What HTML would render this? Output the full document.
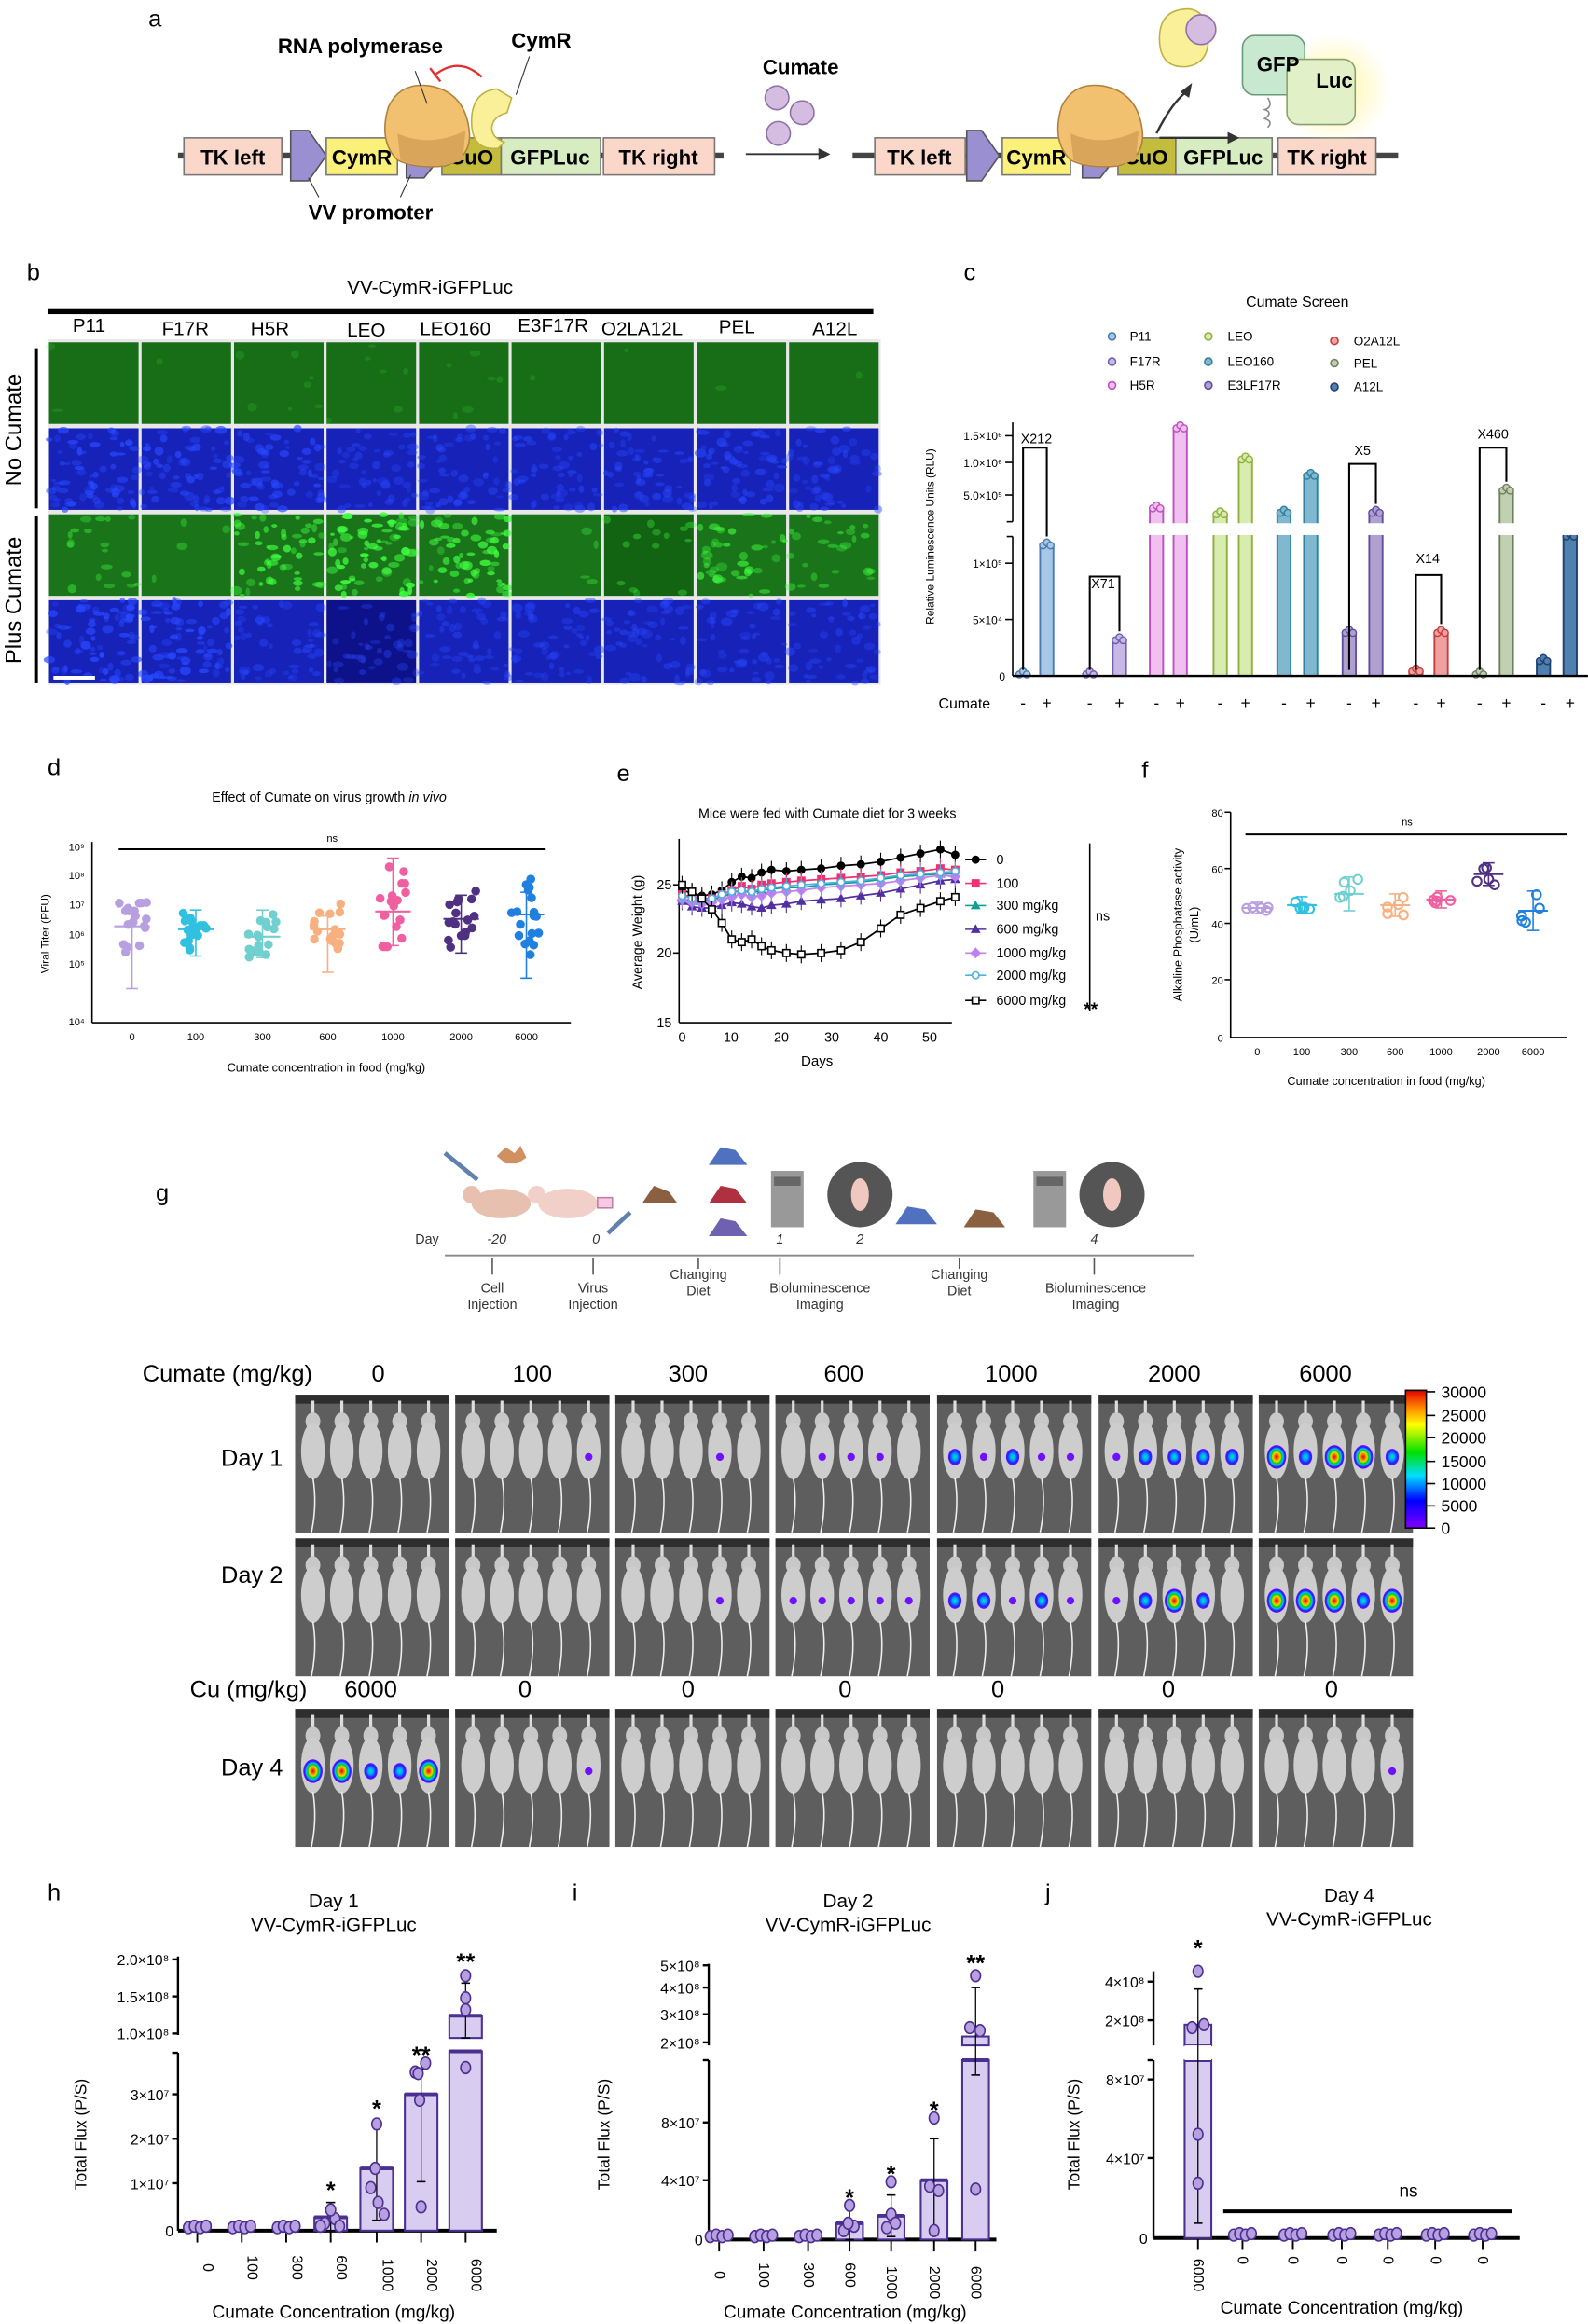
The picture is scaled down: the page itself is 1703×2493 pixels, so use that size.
<!DOCTYPE html>
<html><head><meta charset="utf-8">
<style>
html,body{margin:0;padding:0;background:#fff;}
svg{display:block;font-family:"Liberation Sans",sans-serif;}
</style></head>
<body>
<svg id="s" width="1703" height="2493" viewBox="0 0 1071 1568" xmlns="http://www.w3.org/2000/svg">
<defs>
<radialGradient id="glow"><stop offset="0" stop-color="#fff6a0"/><stop offset="1" stop-color="#fff6a0" stop-opacity="0"/></radialGradient>
<radialGradient id="sp3"><stop offset="0" stop-color="#e00000"/><stop offset="0.25" stop-color="#ff8000"/><stop offset="0.4" stop-color="#e0e000"/><stop offset="0.55" stop-color="#00d000"/><stop offset="0.7" stop-color="#00c0ff"/><stop offset="0.85" stop-color="#2020ff"/><stop offset="1" stop-color="#8000ff"/></radialGradient>
<radialGradient id="sp2"><stop offset="0" stop-color="#00e0c0"/><stop offset="0.4" stop-color="#00a0ff"/><stop offset="0.75" stop-color="#2020ff"/><stop offset="1" stop-color="#7010ff"/></radialGradient>
<linearGradient id="cbar" x1="0" y1="1" x2="0" y2="0"><stop offset="0" stop-color="#8000ff"/><stop offset="0.2" stop-color="#0000ff"/><stop offset="0.38" stop-color="#00e0ff"/><stop offset="0.55" stop-color="#00e000"/><stop offset="0.75" stop-color="#ffff00"/><stop offset="0.88" stop-color="#ff8000"/><stop offset="1" stop-color="#e00000"/></linearGradient>
</defs>

<!-- ============ Panel a ============ -->
<g id="pa">
<text x="100" y="18" font-size="16">a</text>
<line x1="120" y1="105" x2="488" y2="105" stroke="#444" stroke-width="4"/>
<rect x="124" y="93" width="66" height="25" fill="#fad7c9" stroke="#777"/>
<text x="157" y="111" font-size="14" font-weight="bold" text-anchor="middle">TK left</text>
<polygon points="196,88 208,88 220,105 208,122 196,122" fill="#9a8fd0" stroke="#555"/>
<rect x="220" y="93" width="48" height="25" fill="#faf07a" stroke="#777"/>
<text x="244" y="111" font-size="14" font-weight="bold" text-anchor="middle">CymR</text>
<polygon points="274,92 286,92 297,106 286,120 274,120" fill="#9a8fd0" stroke="#555"/>
<rect x="298" y="93" width="40" height="25" fill="#c4bc3c" stroke="#777"/>
<text x="318" y="111" font-size="14" font-weight="bold" text-anchor="middle">CuO</text>
<rect x="338" y="93" width="67" height="25" fill="#d8ecc2" stroke="#777"/>
<text x="371" y="111" font-size="14" font-weight="bold" text-anchor="middle">GFPLuc</text>
<rect x="407" y="93" width="75" height="25" fill="#fad7c9" stroke="#777"/>
<text x="444" y="111" font-size="14" font-weight="bold" text-anchor="middle">TK right</text>
<path d="M262,72 Q270,55 290,58 Q312,62 316,85 Q320,106 300,112 Q280,114 268,108 Q255,95 262,72Z" fill="#f2c170" stroke="#b08040"/>
<path d="M268,90 Q290,100 314,88 L312,108 Q290,116 270,108Z" fill="#d9a55a"/>
<path d="M335,60 Q318,62 318,82 Q318,102 336,100 L340,96 Q330,92 332,84 Q334,78 342,76 L345,66Z" fill="#faf09a" stroke="#c0b040"/>
<path d="M325,52 Q310,38 294,50" fill="none" stroke="#e03030" stroke-width="1.5"/>
<line x1="290" y1="46" x2="297" y2="55" stroke="#e03030" stroke-width="1.5"/>
<text x="243" y="36" font-size="14" font-weight="bold" text-anchor="middle">RNA polymerase</text>
<text x="365" y="32" font-size="14" font-weight="bold" text-anchor="middle">CymR</text>
<line x1="280" y1="48" x2="288" y2="70" stroke="#333" stroke-width="0.7"/>
<line x1="357" y1="38" x2="348" y2="64" stroke="#333" stroke-width="0.7"/>
<text x="250" y="148" font-size="14" font-weight="bold" text-anchor="middle">VV promoter</text>
<line x1="208" y1="120" x2="215" y2="133" stroke="#333" stroke-width="0.7"/>
<line x1="277" y1="118" x2="270" y2="133" stroke="#333" stroke-width="0.7"/>
<text x="540" y="50" font-size="14" font-weight="bold" text-anchor="middle">Cumate</text>
<circle cx="524" cy="66" r="8" fill="#d4bde0" stroke="#9070a8"/>
<circle cx="541" cy="76" r="8" fill="#d4bde0" stroke="#9070a8"/>
<circle cx="525" cy="90" r="8" fill="#d4bde0" stroke="#9070a8"/>
<line x1="503" y1="104" x2="558" y2="104" stroke="#333" stroke-width="1.2"/>
<polygon points="560,104 552,100 552,108" fill="#333"/>
<line x1="575" y1="105" x2="943" y2="105" stroke="#444" stroke-width="4"/>
<rect x="590" y="93" width="61" height="25" fill="#fad7c9" stroke="#777"/>
<text x="620" y="111" font-size="14" font-weight="bold" text-anchor="middle">TK left</text>
<polygon points="652,88 662,88 674,105 662,122 652,122" fill="#9a8fd0" stroke="#555"/>
<rect x="676" y="93" width="46" height="25" fill="#faf07a" stroke="#777"/>
<text x="699" y="111" font-size="14" font-weight="bold" text-anchor="middle">CymR</text>
<polygon points="730,92 742,92 753,106 742,120 730,120" fill="#9a8fd0" stroke="#555"/>
<rect x="754" y="93" width="39" height="25" fill="#c4bc3c" stroke="#777"/>
<text x="773" y="111" font-size="14" font-weight="bold" text-anchor="middle">CuO</text>
<rect x="793" y="93" width="65" height="25" fill="#d8ecc2" stroke="#777"/>
<text x="825" y="111" font-size="14" font-weight="bold" text-anchor="middle">GFPLuc</text>
<rect x="862" y="93" width="66" height="25" fill="#fad7c9" stroke="#777"/>
<text x="895" y="111" font-size="14" font-weight="bold" text-anchor="middle">TK right</text>
<path d="M716,72 Q724,55 744,58 Q766,62 770,85 Q774,106 754,112 Q734,114 722,108 Q709,95 716,72Z" fill="#f2c170" stroke="#b08040"/>
<path d="M722,90 Q744,100 768,88 L766,108 Q744,116 724,108Z" fill="#d9a55a"/>
<path d="M802,6 Q782,6 782,26 Q782,46 800,45 Q815,43 815,26 Q815,8 802,6Z" fill="#faf09a" stroke="#c0b040"/>
<circle cx="810" cy="20" r="10" fill="#d4bde0" stroke="#9070a8"/>
<path d="M780,90 Q790,70 800,62" fill="none" stroke="#333" stroke-width="1.5"/>
<polygon points="804,56 796,62 802,66" fill="#333"/>
<line x1="782" y1="93" x2="832" y2="93" stroke="#333" stroke-width="1.5"/>
<polygon points="836,93 828,89 828,97" fill="#333"/>
<circle cx="900" cy="60" r="38" fill="url(#glow)"/>
<rect x="838" y="24" width="42" height="40" rx="8" fill="#c8e8d0" stroke="#6a9a7a"/>
<rect x="868" y="40" width="46" height="44" rx="8" fill="#e2f0c8" stroke="#8aa070"/>
<text x="862" y="48" font-size="14" font-weight="bold" text-anchor="middle">GFP</text>
<text x="900" y="59" font-size="14" font-weight="bold" text-anchor="middle">Luc</text>
<path d="M855,66 q4,6 -2,8 q6,2 0,6 q6,2 2,6" fill="none" stroke="#888"/>
</g>

<!-- ============ Panel b ============ -->
<g id="pb">
<text x="18" y="189" font-size="16">b</text>
<text x="290" y="198" font-size="13" text-anchor="middle">VV-CymR-iGFPLuc</text>
<rect x="32" y="208" width="557" height="4" fill="#000"/>
<g font-size="13" text-anchor="middle">
<text x="60" y="224">P11</text><text x="125" y="226">F17R</text><text x="182" y="226">H5R</text><text x="247" y="227">LEO</text><text x="307" y="226">LEO160</text><text x="373" y="224">E3F17R</text><text x="433" y="226">O2LA12L</text><text x="497" y="225">PEL</text><text x="563" y="226">A12L</text>
</g>
<rect x="32" y="229" width="562" height="233" fill="#e8e8e8"/>
<g id="cells"></g>
<rect x="23" y="235" width="2.5" height="108" fill="#000"/>
<rect x="23" y="348" width="2.5" height="113" fill="#000"/>
<text transform="translate(14,290) rotate(-90)" font-size="15" text-anchor="middle">No Cumate</text>
<text transform="translate(14,405) rotate(-90)" font-size="15" text-anchor="middle">Plus Cumate</text>
<rect x="36" y="456" width="28" height="2.5" fill="#fff"/>
</g>

<!-- ============ Panel c ============ -->
<g id="pc">
<text x="650" y="189" font-size="16">c</text>
<text x="875" y="207" font-size="10" text-anchor="middle">Cumate Screen</text>
<g font-size="8.5">
<circle cx="750" cy="227" r="2.5" fill="#a8c8e8" stroke="#4a7ab0"/><text x="762" y="230">P11</text>
<circle cx="750" cy="244" r="2.5" fill="#c8b8e8" stroke="#7060b0"/><text x="762" y="247">F17R</text>
<circle cx="750" cy="260" r="2.5" fill="#f0c0f0" stroke="#c050c0"/><text x="762" y="263">H5R</text>
<circle cx="815" cy="227" r="2.5" fill="#d8ecb0" stroke="#90b040"/><text x="828" y="230">LEO</text>
<circle cx="815" cy="244" r="2.5" fill="#80b8d0" stroke="#3080a0"/><text x="828" y="247">LEO160</text>
<circle cx="815" cy="260" r="2.5" fill="#b0a0d0" stroke="#6050a0"/><text x="828" y="263">E3LF17R</text>
<circle cx="900" cy="230" r="2.5" fill="#f0a0a0" stroke="#c04040"/><text x="913" y="233">O2A12L</text>
<circle cx="900" cy="245" r="2.5" fill="#c0d0b0" stroke="#708060"/><text x="913" y="248">PEL</text>
<circle cx="900" cy="261" r="2.5" fill="#5080b0" stroke="#204070"/><text x="913" y="264">A12L</text>
</g>
<g id="cchart"></g>
<line x1="683" y1="285" x2="683" y2="352" stroke="#000"/>
<line x1="683" y1="362" x2="683" y2="456" stroke="#000"/>
<line x1="683" y1="456" x2="1071" y2="456" stroke="#000" stroke-width="1.5"/>
<g font-size="7.5" text-anchor="end">
<text x="676" y="297">1.5×10⁶</text><text x="676" y="315">1.0×10⁶</text><text x="676" y="337">5.0×10⁵</text>
<text x="676" y="383">1×10⁵</text><text x="676" y="421">5×10⁴</text><text x="678" y="459">0</text>
</g>
<g stroke="#000"><line x1="678" y1="294" x2="683" y2="294"/><line x1="678" y1="312" x2="683" y2="312"/><line x1="678" y1="334" x2="683" y2="334"/><line x1="678" y1="380" x2="683" y2="380"/><line x1="678" y1="418" x2="683" y2="418"/><line x1="679" y1="352" x2="683" y2="352"/><line x1="679" y1="362" x2="683" y2="362"/></g>
<text transform="translate(630,362) rotate(-90)" font-size="7.5" text-anchor="middle">Relative Luminescence Units (RLU)</text>
<text x="633" y="478" font-size="10">Cumate</text>
<g font-size="11" text-anchor="middle" id="pm">
<text x="690" y="478">-</text><text x="706" y="478">+</text><text x="735" y="478">-</text><text x="755" y="478">+</text>
<text x="780" y="478">-</text><text x="796" y="478">+</text><text x="823" y="478">-</text><text x="840" y="478">+</text>
<text x="866" y="478">-</text><text x="884" y="478">+</text><text x="910" y="478">-</text><text x="928" y="478">+</text>
<text x="955" y="478">-</text><text x="972" y="478">+</text><text x="998" y="478">-</text><text x="1016" y="478">+</text>
<text x="1041" y="478">-</text><text x="1059" y="478">+</text>
</g>
<g font-size="9" text-anchor="middle">
<text x="699" y="299">X212</text><text x="744" y="397">X71</text><text x="919" y="307">X5</text><text x="963" y="380">X14</text><text x="1007" y="296">X460</text>
</g>
</g>

<!-- ============ Panel d ============ -->
<g id="pd">
<text x="32" y="523" font-size="16">d</text>
<text x="222" y="541" font-size="9" text-anchor="middle">Effect of Cumate on virus growth <tspan font-style="italic">in vivo</tspan></text>
<line x1="62" y1="568" x2="62" y2="690" stroke="#000"/>
<line x1="62" y1="690" x2="385" y2="690" stroke="#000"/>
<g font-size="7" text-anchor="end">
<text x="57" y="574">10⁹</text><text x="57" y="593">10⁸</text><text x="57" y="613">10⁷</text><text x="57" y="633">10⁶</text><text x="57" y="653">10⁵</text><text x="57" y="692">10⁴</text>
</g>
<g font-size="7" text-anchor="middle">
<text x="89" y="702">0</text><text x="132" y="702">100</text><text x="177" y="702">300</text><text x="221" y="702">600</text><text x="265" y="702">1000</text><text x="311" y="702">2000</text><text x="355" y="702">6000</text>
</g>
<line x1="80" y1="573" x2="368" y2="573" stroke="#000" stroke-width="1.3"/>
<text x="224" y="568" font-size="7" text-anchor="middle">ns</text>
<text transform="translate(33,630) rotate(-90)" font-size="7.5" text-anchor="middle">Viral Titer (PFU)</text>
<text x="220" y="723" font-size="8" text-anchor="middle">Cumate concentration in  food (mg/kg)</text>
<g id="ddots"></g>
</g>

<!-- ============ Panel e ============ -->
<g id="pe">
<text x="416" y="527" font-size="16">e</text>
<text x="558" y="552" font-size="9" text-anchor="middle">Mice were fed with Cumate diet for 3 weeks</text>
<line x1="458" y1="566" x2="458" y2="690" stroke="#000"/>
<line x1="458" y1="690" x2="642" y2="690" stroke="#000"/>
<g font-size="9" text-anchor="end"><text x="453" y="600">25</text><text x="453" y="646">20</text><text x="453" y="693">15</text></g>
<g stroke="#000"><line x1="454" y1="597" x2="458" y2="597"/><line x1="454" y1="643" x2="458" y2="643"/></g>
<g font-size="9" text-anchor="middle"><text x="460" y="703">0</text><text x="493" y="703">10</text><text x="527" y="703">20</text><text x="561" y="703">30</text><text x="594" y="703">40</text><text x="627" y="703">50</text></g>
<text x="551" y="719" font-size="9.5" text-anchor="middle">Days</text>
<text transform="translate(433,629) rotate(-90)" font-size="9" text-anchor="middle">Average Weight (g)</text>
<g id="elines"></g>
<g font-size="9">
<text x="672" y="583">0</text><text x="672" y="599">100</text><text x="672" y="614">300 mg/kg</text><text x="672" y="630">600 mg/kg</text><text x="672" y="646">1000 mg/kg</text><text x="672" y="661">2000 mg/kg</text><text x="672" y="678">6000 mg/kg</text>
</g>
<g id="eleg"></g>
<line x1="735" y1="569" x2="735" y2="682" stroke="#000"/>
<text x="739" y="621" font-size="9">ns</text>
<text x="731" y="685" font-size="12" font-weight="bold">**</text>
</g>

<!-- ============ Panel f ============ -->
<g id="pf">
<text x="770" y="525" font-size="16">f</text>
<line x1="830" y1="548" x2="830" y2="700" stroke="#000"/>
<line x1="830" y1="700" x2="1057" y2="700" stroke="#000"/>
<g font-size="7" text-anchor="end"><text x="825" y="551">80</text><text x="825" y="589">60</text><text x="825" y="626">40</text><text x="825" y="664">20</text><text x="825" y="703">0</text></g>
<g stroke="#000"><line x1="826" y1="548" x2="830" y2="548"/><line x1="826" y1="586" x2="830" y2="586"/><line x1="826" y1="623" x2="830" y2="623"/><line x1="826" y1="661" x2="830" y2="661"/></g>
<g font-size="7" text-anchor="middle"><text x="848" y="712">0</text><text x="878" y="712">100</text><text x="910" y="712">300</text><text x="941" y="712">600</text><text x="972" y="712">1000</text><text x="1004" y="712">2000</text><text x="1034" y="712">6000</text></g>
<line x1="840" y1="563" x2="1057" y2="563" stroke="#000" stroke-width="1.3"/>
<text x="949" y="557" font-size="7" text-anchor="middle">ns</text>
<text transform="translate(797,624) rotate(-90)" font-size="8" text-anchor="middle">Alkaline Phosphatase activity</text>
<text transform="translate(808,624) rotate(-90)" font-size="8" text-anchor="middle">(U/mL)</text>
<text x="935" y="732" font-size="8" text-anchor="middle">Cumate concentration in  food (mg/kg)</text>
<g id="fdots"></g>
</g>

<!-- ============ Panel g ============ -->
<g id="pg">
<text x="105" y="810" font-size="16">g</text>
<line x1="300" y1="847" x2="805" y2="847" stroke="#888" stroke-width="1.2"/>
<text x="280" y="839" font-size="9" fill="#333">Day</text>
<g font-size="9" font-style="italic" text-anchor="middle" fill="#333"><text x="335" y="839">-20</text><text x="402" y="839">0</text><text x="526" y="839">1</text><text x="580" y="839">2</text><text x="738" y="839">4</text></g>
<g stroke="#555" stroke-width="1"><line x1="332" y1="849" x2="332" y2="860"/><line x1="400" y1="849" x2="400" y2="860"/><line x1="471" y1="849" x2="471" y2="856"/><line x1="526" y1="849" x2="526" y2="860"/><line x1="647" y1="849" x2="647" y2="856"/><line x1="738" y1="849" x2="738" y2="860"/></g>
<g font-size="9" text-anchor="middle" fill="#333">
<text x="332" y="872">Cell</text><text x="332" y="883">Injection</text>
<text x="400" y="872">Virus</text><text x="400" y="883">Injection</text>
<text x="471" y="863">Changing</text><text x="471" y="874">Diet</text>
<text x="553" y="872">Bioluminescence</text><text x="553" y="883">Imaging</text>
<text x="647" y="863">Changing</text><text x="647" y="874">Diet</text>
<text x="739" y="872">Bioluminescence</text><text x="739" y="883">Imaging</text>
</g>
<ellipse cx="338" cy="812" rx="20" ry="10" fill="#e8c0b0"/><circle cx="318" cy="806" r="6" fill="#e8c0b0"/>
<line x1="300" y1="778" x2="322" y2="796" stroke="#6080b0" stroke-width="3"/>
<path d="M335,780 l6,-6 l6,4 l4,-5 l4,8 l-6,4 l-8,0z" fill="#d09060"/>
<ellipse cx="383" cy="812" rx="20" ry="10" fill="#f0d0c8"/><circle cx="362" cy="806" r="6" fill="#f0d0c8"/>
<rect x="403" y="808" width="10" height="7" fill="#f8c8e8" stroke="#c080a0"/>
<line x1="410" y1="832" x2="425" y2="818" stroke="#6080b0" stroke-width="3"/>
<path d="M433,812 l8,-12 l10,4 l6,8z" fill="#8a6040"/>
<path d="M478,786 l8,-12 l10,2 l8,10z" fill="#5070c0"/>
<path d="M478,812 l8,-12 l10,2 l8,10z" fill="#b03040"/>
<path d="M478,834 l8,-12 l10,2 l8,10z" fill="#7060b0"/>
<rect x="520" y="790" width="22" height="38" fill="#999"/><rect x="522" y="794" width="18" height="6" fill="#666"/>
<circle cx="580" cy="806" r="22" fill="#555"/><ellipse cx="580" cy="806" rx="6" ry="11" fill="#f0c8c0"/>
<path d="M604,826 l8,-12 l12,2 l8,10z" fill="#5070c0"/>
<path d="M650,828 l8,-12 l12,2 l8,10z" fill="#8a6040"/>
<rect x="697" y="790" width="22" height="38" fill="#999"/><rect x="699" y="794" width="18" height="6" fill="#666"/>
<circle cx="750" cy="806" r="22" fill="#555"/><ellipse cx="750" cy="806" rx="6" ry="11" fill="#f0c8c0"/>

<text x="96" y="932" font-size="16">Cumate (mg/kg)</text>
<g font-size="16" text-anchor="middle"><text x="255" y="932">0</text><text x="359" y="932">100</text><text x="464" y="932">300</text><text x="569" y="932">600</text><text x="682" y="932">1000</text><text x="792" y="932">2000</text><text x="894" y="932">6000</text></g>
<text x="149" y="989" font-size="16">Day 1</text>
<text x="149" y="1068" font-size="16">Day 2</text>
<text x="128" y="1145" font-size="16">Cu (mg/kg)</text>
<g font-size="16" text-anchor="middle"><text x="250" y="1145">6000</text><text x="354" y="1145">0</text><text x="464" y="1145">0</text><text x="570" y="1145">0</text><text x="673" y="1145">0</text><text x="788" y="1145">0</text><text x="898" y="1145">0</text></g>
<text x="149" y="1198" font-size="16">Day 4</text>
<g id="mice"></g>
<rect x="948" y="938" width="14" height="93" fill="url(#cbar)" stroke="#000"/>
<g font-size="11"><text x="972" y="943">30000</text><text x="972" y="959">25000</text><text x="972" y="974">20000</text><text x="972" y="990">15000</text><text x="972" y="1005">10000</text><text x="972" y="1020">5000</text><text x="972" y="1035">0</text></g>
<g stroke="#000"><line x1="962" y1="939" x2="968" y2="939"/><line x1="962" y1="955" x2="968" y2="955"/><line x1="962" y1="970" x2="968" y2="970"/><line x1="962" y1="986" x2="968" y2="986"/><line x1="962" y1="1001" x2="968" y2="1001"/><line x1="962" y1="1016" x2="968" y2="1016"/><line x1="962" y1="1031" x2="968" y2="1031"/></g>
</g>

<!-- ============ Panels h i j ============ -->
<g id="ph">
<text x="32" y="1282" font-size="16">h</text>
<text x="225" y="1287" font-size="13" text-anchor="middle">Day 1</text>
<text x="225" y="1303" font-size="13" text-anchor="middle">VV-CymR-iGFPLuc</text>
<g font-size="10" text-anchor="end"><text x="114" y="1326">2.0×10⁸</text><text x="114" y="1351">1.5×10⁸</text><text x="114" y="1376">1.0×10⁸</text><text x="114" y="1417">3×10⁷</text><text x="114" y="1447">2×10⁷</text><text x="114" y="1477">1×10⁷</text><text x="117" y="1509">0</text></g>
<text transform="translate(58,1440) rotate(-90)" font-size="11" text-anchor="middle">Total Flux (P/S)</text>
<g font-size="10" text-anchor="middle">
<text transform="translate(137,1530) rotate(90)">0</text><text transform="translate(167,1530) rotate(90)">100</text><text transform="translate(197,1530) rotate(90)">300</text><text transform="translate(227,1530) rotate(90)">600</text><text transform="translate(258,1535) rotate(90)">1000</text><text transform="translate(288,1535) rotate(90)">2000</text><text transform="translate(318,1535) rotate(90)">6000</text>
</g>
<text x="225" y="1564" font-size="12" text-anchor="middle">Cumate Concentration (mg/kg)</text>
</g>
<g id="pi">
<text x="386" y="1282" font-size="16">i</text>
<text x="572" y="1287" font-size="13" text-anchor="middle">Day 2</text>
<text x="572" y="1303" font-size="13" text-anchor="middle">VV-CymR-iGFPLuc</text>
<g font-size="10" text-anchor="end"><text x="472" y="1330">5×10⁸</text><text x="472" y="1345">4×10⁸</text><text x="472" y="1363">3×10⁸</text><text x="472" y="1382">2×10⁸</text><text x="472" y="1436">8×10⁷</text><text x="472" y="1475">4×10⁷</text><text x="474" y="1515">0</text></g>
<text transform="translate(411,1440) rotate(-90)" font-size="11" text-anchor="middle">Total Flux (P/S)</text>
<g font-size="10" text-anchor="middle">
<text transform="translate(482,1535) rotate(90)">0</text><text transform="translate(512,1535) rotate(90)">100</text><text transform="translate(542,1535) rotate(90)">300</text><text transform="translate(570,1535) rotate(90)">600</text><text transform="translate(598,1540) rotate(90)">1000</text><text transform="translate(627,1540) rotate(90)">2000</text><text transform="translate(655,1540) rotate(90)">6000</text>
</g>
<text x="570" y="1564" font-size="12" text-anchor="middle">Cumate Concentration (mg/kg)</text>
</g>
<g id="pj">
<text x="705" y="1282" font-size="16">j</text>
<text x="910" y="1283" font-size="13" text-anchor="middle">Day 4</text>
<text x="910" y="1299" font-size="13" text-anchor="middle">VV-CymR-iGFPLuc</text>
<g font-size="10" text-anchor="end"><text x="772" y="1341">4×10⁸</text><text x="772" y="1367">2×10⁸</text><text x="772" y="1407">8×10⁷</text><text x="772" y="1460">4×10⁷</text><text x="774" y="1514">0</text></g>
<text transform="translate(728,1440) rotate(-90)" font-size="11" text-anchor="middle">Total Flux (P/S)</text>
<g font-size="10" text-anchor="middle">
<text transform="translate(805,1535) rotate(90)">6000</text><text transform="translate(835,1525) rotate(90)">0</text><text transform="translate(869,1525) rotate(90)">0</text><text transform="translate(902,1525) rotate(90)">0</text><text transform="translate(933,1525) rotate(90)">0</text><text transform="translate(965,1525) rotate(90)">0</text><text transform="translate(997,1525) rotate(90)">0</text>
</g>
<line x1="825" y1="1492" x2="1020" y2="1492" stroke="#000" stroke-width="2.5"/>
<text x="950" y="1482" font-size="12" text-anchor="middle">ns</text>
<text x="905" y="1561" font-size="12" text-anchor="middle">Cumate Concentration (mg/kg)</text>
</g>
<g id="hij"></g>
</svg>
<script>
(function(){
var NS="http://www.w3.org/2000/svg";
function el(p,t,a){var e=document.createElementNS(NS,t);for(var k in a)e.setAttribute(k,a[k]);p.appendChild(e);return e;}
var seed=12345;function rnd(){seed=(seed*16807)%2147483647;return (seed-1)/2147483646;}
var cells=document.getElementById('cells');
var x0=32,cw=62.4,rows=[[231,55],[289,55],[347,55],[405,56]];
var gPlus=[0.25,0.05,0.75,1,0.85,0.05,0.2,0.55,0.35],gNo=[0.02,0.01,0.06,0.05,0.05,0.01,0.01,0.01,0.01];
var blueBright=[0.8,0.7,0.7,0.3,0.4,0.4,0.4,0.5,0.4],blueB2=[0.9,0.9,0.3,0.15,0.3,0.3,0.3,0.3,0.3];
for(var c=0;c<9;c++){var x=x0+c*cw+1;var w=cw-2;
 for(var r=0;r<4;r++){var y=rows[r][0],h=rows[r][1];
  var g=el(cells,'g',{});
  if(r==0||r==2){var inten=r==0?gNo[c]:gPlus[c];
   var base=r==2&&(c==6)?'#126412':(r==0?'#176e17':'#1a751a');
   el(g,'rect',{x:x,y:y,width:w,height:h,fill:base});
   var n=r==0?Math.round(inten*120):Math.round(inten*70);
   for(var i=0;i<n;i++)el(g,'ellipse',{cx:x+rnd()*w,cy:y+rnd()*h,rx:1.5+rnd()*2.5,ry:1+rnd()*2,fill:'#40ff40',opacity:r==0?0.15:0.3+0.6*inten*rnd()});
  }else{var bb=r==1?blueBright[c]:blueB2[c];
   el(g,'rect',{x:x,y:y,width:w,height:h,fill:r==3&&c==3?'#0e128a':'#1622b8'});
   var n=Math.round(35+bb*40);
   for(var i=0;i<n;i++)el(g,'ellipse',{cx:x+rnd()*w,cy:y+rnd()*h,rx:1.5+rnd()*2.5,ry:1+rnd()*2,fill:'#2848ff',opacity:0.3+0.6*bb*rnd()});
  }
 }}
var cc=document.getElementById('cchart');
var bars=[['#a8c8e8','#4a7ab0',455,368],['#c8b8e8','#7060b0',455,432],['#f0c0f0','#c050c0',343,289],['#d8ecb0','#90b040',347,310],['#80b8d0','#3080a0',346,321],['#b0a0d0','#6050a0',427,346],['#f0a0a0','#c04040',453,427],['#c0d0b0','#708060',455,331],['#5080b0','#204070',446,362]];
var px=[[690,706],[735,755],[780,796],[823,840],[866,884],[910,928],[955,972],[998,1016],[1041,1059]];
for(var i=0;i<9;i++){for(var j=0;j<2;j++){var top=bars[i][2+j];var xx=px[i][j];
 if(456-top>1)el(cc,'rect',{x:xx-4.5,y:top,width:9,height:456-top,fill:bars[i][0],stroke:bars[i][1],'stroke-width':1.2});
 for(var k=0;k<3;k++)el(cc,'circle',{cx:xx-2.5+k*2.5,cy:top+(k==1?-2:0),r:2.3,fill:bars[i][0],stroke:bars[i][1],'stroke-width':0.9});}}
el(cc,'rect',{x:684,y:353,width:387,height:8,fill:'#fff'});
var br=[[690,706,302,368],[735,755,389,432],[910,928,313,346],[955,972,388,427],[998,1016,302,331]];
br.forEach(function(b){el(cc,'path',{d:'M'+b[0]+',452 L'+b[0]+','+b[2]+' L'+b[1]+','+b[2]+' L'+b[1]+','+(b[3]-6),fill:'none',stroke:'#000','stroke-width':1.3});});
var dd=document.getElementById('ddots');
var dcols=['#b8a0e0','#30c0e0','#70d0d0','#f8b080','#f060a0','#503080','#2080e0'];
var dx=[89,132,177,221,265,311,355],dm=[625,627,632,627,615,620,617],ds=[[613,667],[614,645],[614,646],[618,656],[579,638],[604,643],[602,660]];
for(var c=0;c<7;c++){var col=dcols[c];
 el(dd,'line',{x1:dx[c],y1:ds[c][0],x2:dx[c],y2:ds[c][1],stroke:col});
 el(dd,'line',{x1:dx[c]-4,y1:ds[c][0],x2:dx[c]+4,y2:ds[c][0],stroke:col});
 el(dd,'line',{x1:dx[c]-4,y1:ds[c][1],x2:dx[c]+4,y2:ds[c][1],stroke:col});
 el(dd,'line',{x1:dx[c]-12,y1:dm[c],x2:dx[c]+12,y2:dm[c],stroke:col,'stroke-width':1.3});
 for(var i=0;i<18;i++){var yy=dm[c]+(rnd()+rnd()-1)*(ds[c][1]-ds[c][0])*0.55;el(dd,'circle',{cx:dx[c]+(rnd()-0.5)*20,cy:yy,r:3,fill:col});}}
var fd=document.getElementById('fdots');
var fx=[848,878,910,941,972,1004,1034],fm=[46,47,51,47,49,58,45];
var fcols=['#b8a0e0','#30c0e0','#70d0d0','#f8b080','#f060a0','#503080','#2080e0'];
function fy(v){return 700-v*1.9;}
for(var c=0;c<7;c++){var col=fcols[c];var sd=[2,3,6,4,3,4,7][c];
 el(fd,'line',{x1:fx[c],y1:fy(fm[c]+sd),x2:fx[c],y2:fy(fm[c]-sd),stroke:col});
 el(fd,'line',{x1:fx[c]-4,y1:fy(fm[c]+sd),x2:fx[c]+4,y2:fy(fm[c]+sd),stroke:col});
 el(fd,'line',{x1:fx[c]-4,y1:fy(fm[c]-sd),x2:fx[c]+4,y2:fy(fm[c]-sd),stroke:col});
 el(fd,'line',{x1:fx[c]-10,y1:fy(fm[c]),x2:fx[c]+10,y2:fy(fm[c]),stroke:col,'stroke-width':1.3});
 for(var i=0;i<5;i++){var v=fm[c]+(rnd()-0.5)*2*sd;el(fd,'circle',{cx:fx[c]+(rnd()-0.5)*16,cy:fy(v),r:3,fill:'none',stroke:col,'stroke-width':1.3});}}
var eg=document.getElementById('elines');
function ex(d){return 460+d*3.35;}function ey(w){return 597-(w-25)*9.2;}
var days=[0,2,4,6,8,10,12,14,16,18,21,24,28,32,36,40,44,48,52,55];
var ser=[['#000','circle',true,[24.6,24.4,24.2,24.3,24.6,25.2,25.6,25.5,25.9,26.1,26,26.1,26.2,26.4,26.5,26.7,27,27.3,27.6,27.2]],
['#f03070','square',true,[24.3,24.1,24,24,24.3,24.6,24.9,24.7,25,25.1,25.2,25.3,25.4,25.5,25.6,25.7,25.9,26,26.2,26.1]],
['#10a090','tri',true,[24,23.8,23.8,23.9,24.1,24.4,24.6,24.4,24.6,24.7,24.8,24.8,25,25.1,25.2,25.4,25.6,25.7,25.8,25.8]],
['#5030a0','tri',true,[23.8,23.4,23.3,23.3,23.5,23.7,23.6,23.4,23.3,23.5,23.6,23.8,23.9,24,24.2,24.4,24.7,25,25.3,25.4]],
['#c080f0','diam',true,[23.9,23.7,23.6,23.7,23.9,24.1,24.3,24.1,24.2,24.4,24.5,24.6,24.8,24.9,25,25.1,25.3,25.5,25.7,25.6]],
['#50b0e0','circle',false,[24.2,24,23.9,24,24.3,24.5,24.6,24.5,24.7,24.8,24.9,25,25.1,25.2,25.3,25.5,25.7,25.8,25.9,26]],
['#000','square',false,[25,24.5,24,23.2,22.2,21,20.8,21,20.5,20.2,20,19.9,20,20.2,20.8,21.8,22.8,23.3,23.8,24.1]]];
ser.forEach(function(s){var d='';for(var i=0;i<days.length;i++){d+=(i?'L':'M')+ex(days[i])+','+ey(s[3][i]);}
 el(eg,'path',{d:d,fill:'none',stroke:s[0],'stroke-width':1.1});
 for(var i=0;i<days.length;i++){var x=ex(days[i]),y=ey(s[3][i]);
  el(eg,'line',{x1:x,y1:y-6,x2:x,y2:y+6,stroke:s[0],'stroke-width':0.7});
  mark(eg,s[1],x,y,s[0],s[2]);}});
function mark(p,t,x,y,c,f){var fill=f?c:'#fff';
 if(t=='circle')el(p,'circle',{cx:x,cy:y,r:2.3,fill:fill,stroke:c});
 else if(t=='square')el(p,'rect',{x:x-2.3,y:y-2.3,width:4.6,height:4.6,fill:fill,stroke:c});
 else if(t=='tri')el(p,'polygon',{points:(x-2.5)+','+(y+2)+' '+(x+2.5)+','+(y+2)+' '+x+','+(y-2.5),fill:fill,stroke:c});
 else el(p,'polygon',{points:x+','+(y-3)+' '+(x+3)+','+y+' '+x+','+(y+3)+' '+(x-3)+','+y,fill:fill,stroke:c});}
var lg=document.getElementById('eleg');var ly=[580,596,611,627,643,658,675];
ser.forEach(function(s,i){el(lg,'line',{x1:651,y1:ly[i],x2:665,y2:ly[i],stroke:s[0]});mark(lg,s[1],658,ly[i],s[0],s[2]);});
var mg=document.getElementById('mice');
var mx=[199,307,415,523,632,741,849],my=[941,1038,1153],mw=104,mh=93;
var sp=[[[0,0,0,0,0],[0,0,0,0,1],[0,0,0,1,0],[0,1,1,1,0],[2,1,2,1,1],[1,2,2,2,2],[3,2,3,3,2]],
[[0,0,0,0,0],[0,0,0,0,0],[0,0,0,1,0],[1,1,1,1,1],[2,2,1,2,1],[1,2,3,2,0],[3,3,3,2,3]],
[[3,3,2,2,3],[0,0,0,0,1],[0,0,0,0,0],[0,0,0,0,0],[0,0,0,0,0],[0,0,0,0,0],[0,0,0,0,1]]];
for(var r=0;r<3;r++)for(var c=0;c<7;c++){var x=mx[c],y=my[r];
 el(mg,'rect',{x:x,y:y,width:mw,height:mh,fill:'#5e5e5e'});
 el(mg,'rect',{x:x,y:y,width:mw,height:6,fill:'#2e2e2e'});
 for(var i=0;i<5;i++){var cx=x+12+i*19.5;
  el(mg,'line',{x1:cx,y1:y+4,x2:cx,y2:y+14,stroke:'#ddd','stroke-width':2});
  el(mg,'ellipse',{cx:cx,cy:y+18,rx:5,ry:6,fill:'#c8c8c8'});
  el(mg,'ellipse',{cx:cx,cy:y+38,rx:8,ry:19,fill:'#cdcdcd'});
  el(mg,'path',{d:'M'+cx+','+(y+56)+' q3,18 -1,'+(mh-56),fill:'none',stroke:'#eee','stroke-width':1});
  var l=sp[r][c][i];
  if(l==1)el(mg,'circle',{cx:cx,cy:y+42,r:2.6,fill:'#7010ff'});
  else if(l==2)el(mg,'ellipse',{cx:cx,cy:y+42,rx:4.5,ry:5.5,fill:'url(#sp2)'});
  else if(l==3)el(mg,'ellipse',{cx:cx,cy:y+42,rx:6.5,ry:8,fill:'url(#sp3)'});}}
var hj=document.getElementById('hij');
var fillc='#d8ccf0',strk='#4a3090';
function axis(x,yTop1,yBot1,yTop2,y0,xEnd){
 el(hj,'line',{x1:x,y1:yTop1,x2:x,y2:yBot1,stroke:'#000','stroke-width':1.5});
 el(hj,'line',{x1:x,y1:yTop2,x2:x,y2:y0,stroke:'#000','stroke-width':1.5});
 el(hj,'line',{x1:x,y1:y0,x2:xEnd,y2:y0,stroke:'#000','stroke-width':2.5});}
function ticks(x,ys){ys.forEach(function(y){el(hj,'line',{x1:x-4,y1:y,x2:x,y2:y,stroke:'#000','stroke-width':1.5});});}
function xt(xs,y0){xs.forEach(function(x){el(hj,'line',{x1:x,y1:y0,x2:x,y2:y0+8,stroke:'#000','stroke-width':1.2});});}
function bar(x,top,y0,w){el(hj,'rect',{x:x-w/2,y:top,width:w,height:y0-top,fill:fillc,stroke:strk,'stroke-width':1.3});el(hj,'line',{x1:x-w/2,y1:top,x2:x+w/2,y2:top,stroke:strk,'stroke-width':2.5});}
function err(x,a,b){el(hj,'line',{x1:x,y1:a,x2:x,y2:b,stroke:'#000','stroke-width':0.8});el(hj,'line',{x1:x-3,y1:a,x2:x+3,y2:a,stroke:'#000'});el(hj,'line',{x1:x-3,y1:b,x2:x+3,y2:b,stroke:'#000'});}
function dot(x,y){el(hj,'ellipse',{cx:x,cy:y,rx:3.3,ry:4,fill:'#b8a0e0',stroke:'#4a3090','stroke-width':1});}
function star(x,y,s){var t=el(hj,'text',{x:x,y:y,'font-size':16,'font-weight':'bold','text-anchor':'middle'});t.textContent=s;}
function zeros(x,y0){for(var i=0;i<4;i++)dot(x-6+i*4,y0-2-(i%2));}
axis(120,1320,1373,1385,1505,335);ticks(120,[1322,1347,1372,1385,1413,1443,1473]);
var hx=[133,163,193,223,254,284,314];xt(hx,1505);
zeros(133,1505);zeros(163,1505);zeros(193,1505);
bar(223,1496,1505,22);err(223,1486,1505);dot(219,1500);dot(226,1497);dot(223,1491);dot(216,1502);dot(229,1502);
bar(254,1463,1505,22);err(254,1431,1498);dot(254,1433);dot(250,1476);dot(255,1486);dot(259,1494);dot(253,1463);
bar(284,1413,1505,22);err(284,1396,1472);dot(287,1392);dot(280,1398);dot(282,1399);dot(283,1417);dot(284,1489);
el(hj,'rect',{x:121,y:1375,width:220,height:9,fill:'#fff'});
bar(314,1384,1505,22);el(hj,'rect',{x:303,y:1360,width:22,height:15,fill:fillc,stroke:strk,'stroke-width':1.3});el(hj,'line',{x1:303,y1:1360,x2:325,y2:1360,stroke:strk,'stroke-width':2.5});
err(314,1338,1375);dot(314,1333);dot(314,1348);dot(314,1356);dot(314,1395);
star(254,1428,'*');star(284,1392,'**');star(314,1329,'**');star(223,1483,'*');
axis(478,1325,1380,1390,1511,672);ticks(478,[1326,1341,1359,1378,1390,1432,1471]);
var ix=[485,515,545,573,601,630,658];xt(ix,1511);
zeros(485,1511);zeros(515,1511);zeros(545,1511);
bar(573,1500,1511,18);err(573,1490,1511);dot(573,1488);dot(569,1505);dot(576,1502);dot(572,1500);
bar(601,1495,1511,18);err(601,1481,1509);dot(601,1472);dot(601,1494);dot(598,1503);dot(604,1500);
bar(630,1471,1511,18);err(630,1443,1508);dot(630,1429);dot(627,1475);dot(633,1478);dot(630,1505);
el(hj,'rect',{x:479,y:1382,width:195,height:7,fill:'#fff'});
bar(658,1390,1511,18);el(hj,'rect',{x:649,y:1374,width:18,height:6,fill:fillc,stroke:strk,'stroke-width':1.3});
err(658,1341,1400);dot(658,1333);dot(654,1368);dot(661,1370);dot(658,1477);
star(573,1488,'*');star(601,1472,'*');star(630,1429,'*');star(658,1330,'**');
axis(778,1330,1380,1390,1510,1025);ticks(778,[1337,1363,1390,1403,1456]);
var jx=[808,838,872,905,936,968,1000];xt(jx,1510);
el(hj,'rect',{x:799,y:1366,width:18,height:14,fill:fillc,stroke:strk,'stroke-width':1.3});
bar(808,1390,1510,18);el(hj,'rect',{x:799,y:1380,width:18,height:10,fill:'#fff'});
err(808,1342,1500);dot(808,1330);dot(804,1368);dot(812,1366);dot(808,1440);dot(808,1473);
star(808,1320,'*');
for(var k=1;k<7;k++){zeros(jx[k],1510);}
})();
</script>
</body></html>
